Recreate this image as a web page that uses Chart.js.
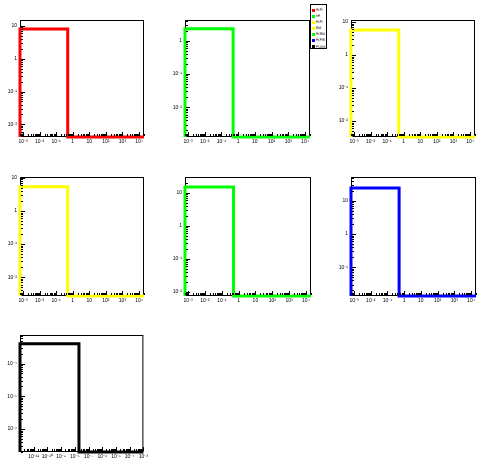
<!DOCTYPE html>
<html>
<head>
<meta charset="utf-8">
<script src="https://cdn.jsdelivr.net/npm/chart.js@4/dist/chart.umd.min.js"></script>
<style>
body{margin:0;background:#fff;width:496px;height:472px;position:relative;overflow:hidden;font-family:"Liberation Sans",Arial,sans-serif}
canvas{position:absolute}
#legend{position:absolute;left:310px;top:4px;width:17px;height:45px;background:#fff;border:1px solid #000;box-sizing:border-box;padding-top:2px}
#legend div{height:6.1px;line-height:6px;font-size:3px;white-space:nowrap;color:#000}
#legend span{display:inline-block;width:3px;height:3px;margin:0 1px 0 1px;vertical-align:middle}
</style>
</head>
<body>
<div id="legend"></div>
<script>
// one histogram per panel, legend entries in the same order
const panelNames = ['Hi-Pt', 'ttH', 'Hi-Pt', 'Mid', 'Hi-Mid', 'Hi-PtB', 'Pt-Unk']
const panelColors = ['#ff0000', '#00ff00', '#ffff00', '#ffff00', '#00ff00', '#0000ff', '#000000']

// bin edges and bin contents (0 = empty bin, drawn on the floor)
const binEdges = [
  [6.6e-4, 0.5, 2e4],
  [6.6e-4, 0.5, 2e4],
  [6.6e-4, 0.5, 2e4],
  [6.6e-4, 0.5, 2e4],
  [6.6e-4, 0.5, 2e4],
  [6.6e-4, 0.5, 2e4],
  [1e-12, 2e-8, 1e-3]
]
const binContents = [
  [8.1, 0],
  [2.3, 0],
  [5.7, 0],
  [5.4, 0],
  [15, 0],
  [24.4, 0],
  [4.0e-4, 0]
]

// axis ranges
const yMins = [0.0041, 0.00127, 0.0033, 0.0027, 0.0076, 0.0136, 2.0e-7]
const yMaxs = [15.2, 4.2, 11.5, 10.7, 30, 52, 7.4e-4]

// tick labels (decade exponents)
const xTickExps = [
  [-3, -2, -1, 0, 1, 2, 3, 4],
  [-3, -2, -1, 0, 1, 2, 3, 4],
  [-3, -2, -1, 0, 1, 2, 3, 4],
  [-3, -2, -1, 0, 1, 2, 3, 4],
  [-3, -2, -1, 0, 1, 2, 3, 4],
  [-3, -2, -1, 0, 1, 2, 3, 4],
  [-11, -10, -9, -8, -7, -6, -5, -4, -3]
]
const yTickExps = [
  [1, 0, -1, -2],
  [0, -1, -2],
  [1, 0, -1, -2],
  [1, 0, -1, -2],
  [1, 0, -1, -2],
  [1, 0, -1],
  [-4, -5, -6]
]

// frame boxes in the page: left, top, width, height
const frames = [
  [20, 19, 124, 118], [185, 19, 125, 118], [351, 19, 124, 118],
  [20, 176, 124, 120], [185, 176, 126, 120], [351, 176, 125, 120],
  [20, 334, 124, 118]
]

const sup = {'-': '\u207b', '0': '\u2070', '1': '\u00b9', '2': '\u00b2', '3': '\u00b3', '4': '\u2074', '5': '\u2075', '6': '\u2076', '7': '\u2077', '8': '\u2078', '9': '\u2079'}
function decadeLabel(v) {
  const e = Math.round(Math.log10(v))
  if (e === 0) return '1'
  if (e === 1) return '10'
  return '10' + String(e).split('').map(c => sup[c]).join('')
}

// legend
const legend = document.getElementById('legend')
panelNames.forEach((n, i) => {
  const row = document.createElement('div')
  row.innerHTML = '<span style="background:' + panelColors[i] + '"></span>' + n
  legend.appendChild(row)
})

// ROOT style frame with inward ticks
const rootFrame = {
  id: 'rootFrame',
  beforeDatasetsDraw(chart) {
    const a = chart.chartArea, ctx = chart.ctx
    ctx.save()
    ctx.strokeStyle = '#000'
    ctx.lineWidth = 1
    ctx.strokeRect(a.left + 0.5, a.top + 0.5, a.right - a.left - 1, a.bottom - a.top - 1)
    ctx.restore()
  },
  afterDatasetsDraw(chart) {
    const a = chart.chartArea, ctx = chart.ctx
    ctx.save()
    ctx.strokeStyle = '#000'
    ctx.lineWidth = 1
    ctx.beginPath()
    const xs = chart.scales.x, ys = chart.scales.y
    for (let d = Math.floor(Math.log10(xs.min)); d <= Math.ceil(Math.log10(xs.max)); d++) {
      for (let k = 1; k < 10; k++) {
        const v = k * Math.pow(10, d)
        if (v < xs.min || v > xs.max) continue
        const px = Math.round(xs.getPixelForValue(v)) + 0.5
        const len = k === 1 ? 4 : 2
        ctx.moveTo(px, a.bottom - 1)
        ctx.lineTo(px, a.bottom - 1 - len)
      }
    }
    for (let d = Math.floor(Math.log10(ys.min)); d <= Math.ceil(Math.log10(ys.max)); d++) {
      for (let k = 1; k < 10; k++) {
        const v = k * Math.pow(10, d)
        if (v < ys.min || v > ys.max) continue
        const py = Math.round(ys.getPixelForValue(v)) + 0.5
        const len = k === 1 ? 4 : 2
        ctx.moveTo(a.left + 1, py)
        ctx.lineTo(a.left + 1 + len, py)
      }
    }
    ctx.stroke()
    ctx.restore()
  }
}

frames.forEach((f, i) => {
  const cv = document.createElement('canvas')
  const padTop = 5, padRight = 6, axisW = 20, axisH = 14
  cv.width = f[2] + axisW + padRight
  cv.height = f[3] + padTop + axisH
  cv.style.left = (f[0] - axisW) + 'px'
  cv.style.top = (f[1] - padTop) + 'px'
  document.body.appendChild(cv)

  const edges = binEdges[i], cont = binContents[i]
  const floorY = yMins[i]
  // histogram outline: start on the floor, then each bin's top, ending at the last edge
  const pts = [{x: edges[0], y: floorY}]
  cont.forEach((c, j) => pts.push({x: edges[j], y: c > 0 ? c : floorY}))
  pts.push({x: edges[edges.length - 1], y: cont[cont.length - 1] > 0 ? cont[cont.length - 1] : floorY})

  new Chart(cv, {
    type: 'line',
    data: {
      datasets: [{
        label: panelNames[i],
        data: pts,
        borderColor: panelColors[i],
        borderWidth: 3,
        stepped: 'before',
        pointRadius: 0,
        fill: false,
        clip: 4
      }]
    },
    options: {
      responsive: false,
      animation: false,
      devicePixelRatio: 1,
      layout: {autoPadding: false, padding: {top: padTop, right: padRight, left: 0, bottom: 0}},
      plugins: {legend: {display: false}, tooltip: {enabled: false}},
      scales: {
        x: {
          type: 'logarithmic',
          min: edges[0],
          max: edges[edges.length - 1],
          afterBuildTicks: s => { s.ticks = xTickExps[i].map(e => ({value: Math.pow(10, e)})) },
          afterFit: s => { s.height = axisH },
          grid: {display: false, drawTicks: false},
          border: {display: false},
          ticks: {
            font: {size: 5, family: '"Liberation Sans", Arial'},
            color: '#000', padding: 2, maxRotation: 0, autoSkip: false,
            callback: v => decadeLabel(v)
          }
        },
        y: {
          type: 'logarithmic',
          min: yMins[i],
          max: yMaxs[i],
          afterBuildTicks: s => { s.ticks = yTickExps[i].map(e => ({value: Math.pow(10, e)})) },
          afterFit: s => { s.width = axisW },
          grid: {display: false, drawTicks: false},
          border: {display: false},
          ticks: {
            font: {size: 5, family: '"Liberation Sans", Arial'},
            color: '#000', padding: 3, autoSkip: false,
            callback: v => decadeLabel(v)
          }
        }
      }
    },
    plugins: [rootFrame]
  })
})
</script>
</body>
</html>
